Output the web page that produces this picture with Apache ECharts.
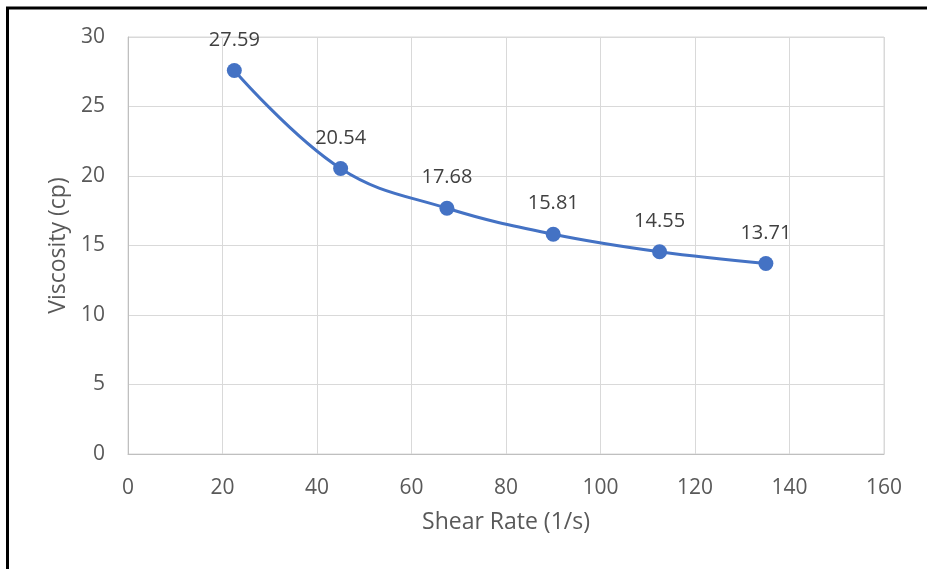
<!DOCTYPE html>
<html><head><meta charset="utf-8">
<script src="https://cdn.jsdelivr.net/npm/echarts@6/dist/echarts.min.js"></script>
<style>html,body{margin:0;padding:0;background:#fff}#c{width:927px;height:569px}</style>
</head><body><div id="c"></div>
<script>
const shearRate = [22.5, 45, 67.5, 90, 112.5, 135];
const viscosity = [27.59, 20.54, 17.68, 15.81, 14.55, 13.71];
const xTicks = {min: 0, max: 160, interval: 20};
const yTicks = {min: 0, max: 30, interval: 5};

const chart = echarts.init(document.getElementById('c'), null, {renderer: 'canvas'});
const font = '"Open Sans", sans-serif';
chart.setOption({
  animation: false,
  backgroundColor: '#fff',
  graphic: [
    {type: 'line', shape: {x1: 7.5, y1: 8, x2: 7.5, y2: 569}, style: {stroke: '#000', lineWidth: 3}},
    {type: 'line', shape: {x1: 6, y1: 8, x2: 927, y2: 8}, style: {stroke: '#000', lineWidth: 3}}
  ],
  grid: {left: 128, right: 43, top: 37, bottom: 115, show: true, borderColor: '#d9d9d9', borderWidth: 1},
  xAxis: {
    type: 'value', min: xTicks.min, max: xTicks.max, interval: xTicks.interval,
    name: 'Shear Rate (1/s)', nameLocation: 'middle', nameGap: 57,
    nameTextStyle: {fontFamily: font, fontSize: 23, color: '#595959'},
    axisLine: {show: true, lineStyle: {color: '#bfbfbf', width: 1}},
    axisTick: {show: false},
    axisLabel: {fontFamily: font, fontSize: 21, color: '#595959', margin: 24},
    splitLine: {show: true, lineStyle: {color: '#d9d9d9', width: 1}}
  },
  yAxis: {
    type: 'value', min: yTicks.min, max: yTicks.max, interval: yTicks.interval,
    name: 'Viscosity (cp)', nameLocation: 'middle', nameGap: 54,
    nameTextStyle: {fontFamily: font, fontSize: 23, color: '#595959'},
    axisLine: {show: true, lineStyle: {color: '#bfbfbf', width: 1}},
    axisTick: {show: false},
    axisLabel: {fontFamily: font, fontSize: 21, color: '#595959', margin: 23},
    splitLine: {show: true, lineStyle: {color: '#d9d9d9', width: 1}}
  },
  series: [{
    type: 'line',
    data: shearRate.map((x, i) => [x, viscosity[i]]),
    smooth: 0.4,
    symbol: 'circle', symbolSize: 15,
    lineStyle: {color: '#4472C4', width: 3},
    itemStyle: {color: '#4472C4'},
    label: {show: true, position: 'top', distance: 13, fontFamily: font, fontSize: 20, color: '#404040',
      formatter: p => p.value[1].toFixed(2)}
  }]
});
</script></body></html>
